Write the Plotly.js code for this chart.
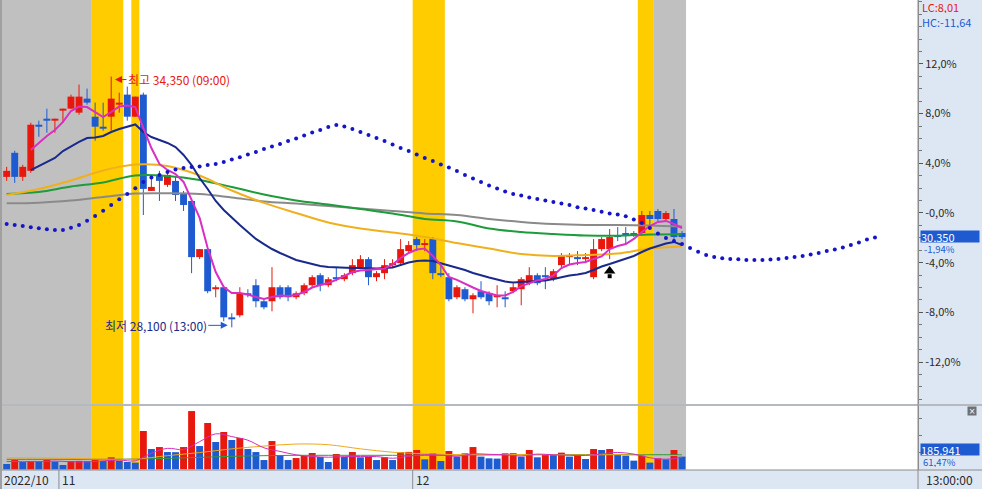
<!DOCTYPE html>
<html><head><meta charset="utf-8">
<script src="https://cdn.plot.ly/plotly-3.0.1.min.js"></script>
<style>html,body{margin:0;padding:0;background:#dde7f4;}#chart{width:982px;height:489px;}</style>
</head><body><div id="chart"></div>
<script>
// ---------- data ----------
const BASE_PRICE = 30950;
const open  = [31850,32450,31850,32000,33150,33300,33250,33500,33550,33450,33800,33350,33100,33350,33650,33900,33350,33900,31500,31900,31650,31750,31450,31250,29850,30050,29050,29100,28350,28400,28950,29150,28750,28750,29100,29100,28850,28950,29150,29400,29150,29350,29300,29450,29600,29800,29350,29450,29650,29700,30000,30300,30150,30300,29450,29350,28850,29050,28800,29000,28950,28850,28850,29000,29050,29200,29400,29400,29300,29650,29850,29850,29800,29350,30050,30050,30400,30450,30450,30450,30900,31000,30800,30800,30450];
const high  = [32100,32500,32150,33200,33250,33550,33300,33550,33900,34150,34050,33700,33700,34350,33950,34100,33850,33950,31850,32000,32000,31850,31500,31250,30050,30050,29150,29100,28450,29100,29050,29300,28800,29600,29150,29150,29000,29200,29400,29450,29350,29600,29450,29800,29900,29850,29500,29800,29800,30300,30250,30350,30300,30350,29700,29450,29150,29100,28950,29250,29000,29150,29000,29200,29350,29600,29450,29600,29550,29950,29950,30000,29950,30300,30350,30550,30600,30600,30500,31000,31000,31050,31000,31050,30500];
const low   = [31750,31700,31750,31950,32850,32950,32950,33200,33550,33400,33650,32750,33000,33000,33450,33250,33350,30900,31500,31250,31600,31250,31000,29450,29800,28950,28850,28250,28100,28350,28850,28600,28550,28500,28800,28750,28800,28900,29100,29000,29100,29250,29250,29400,29550,29150,29250,29300,29600,29650,29950,30000,30000,29300,29350,28750,28800,28750,28450,28800,28650,28600,28600,28950,28650,29150,29150,29050,29250,29600,29650,29650,29700,29300,30000,29800,30250,30200,30350,30400,30650,30750,30750,30200,30300];
const close = [32000,31850,32100,33150,33100,33250,33300,33550,33850,33850,33700,33100,33050,33800,33700,33350,33850,31550,31600,31750,31900,31400,31150,29850,30050,29000,29100,28350,28300,28950,28900,28750,28600,29100,28850,28850,28950,29150,29350,29150,29300,29300,29400,29650,29800,29350,29450,29650,29700,30050,30150,30150,30200,29450,29400,28800,29100,28800,28900,28850,28750,28900,28800,29100,29300,29400,29200,29350,29500,29900,29900,29800,29850,30050,30300,30350,30350,30400,30400,30900,30800,30800,30950,30350,30350];
const volume = [78000,136000,107000,122000,120000,136000,113000,63000,121000,123000,
  120000,136000,122000,176000,122000,107000,98000,561000,297000,326000,
  253000,251000,326000,853000,341000,678000,400000,546000,429000,458000,
  297000,253000,136000,414000,209000,136000,165000,195000,239000,180000,
  107000,224000,180000,253000,176000,186000,136000,176000,136000,253000,
  255000,283000,146000,234000,122000,268000,186000,234000,326000,186000,
  161000,157000,234000,236000,186000,283000,176000,209000,208000,244000,
  186000,220000,151000,297000,283000,297000,209000,201000,127000,209000,
  98000,161000,146000,283000,185941];
// moving-average lines
const maShort = [null,null,null,5.07,5.64,6.20,6.68,7.33,8.21,8.57,8.53,8.13,7.73,8.13,8.57,8.66,8.53,6.84,5.23,3.95,3.46,3.14,2.50,1.05,-0.40,-2.82,-4.75,-5.96,-6.44,-6.44,-6.56,-6.76,-6.92,-6.76,-6.64,-6.68,-6.60,-6.36,-6.00,-5.80,-5.64,-5.39,-5.07,-4.75,-4.63,-4.59,-4.55,-4.47,-4.15,-3.62,-3.22,-2.94,-2.86,-3.46,-4.19,-5.15,-5.39,-5.72,-6.00,-6.28,-6.44,-6.64,-6.64,-6.36,-5.88,-5.64,-5.43,-5.31,-5.03,-4.43,-4.15,-4.03,-3.95,-3.70,-3.50,-2.90,-2.66,-2.50,-2.09,-1.53,-1.05,-0.72,-0.64,-0.89,-1.21];
const maMid = [null,null,null,3.46,3.78,4.11,4.43,4.99,5.39,5.72,6.04,6.08,6.20,6.52,6.76,6.96,7.13,6.52,6.12,5.88,5.64,5.31,4.67,3.86,2.82,1.93,0.97,0.24,-0.40,-0.97,-1.53,-2.09,-2.50,-2.90,-3.22,-3.50,-3.78,-3.95,-4.11,-4.27,-4.35,-4.39,-4.43,-4.43,-4.43,-4.47,-4.47,-4.43,-4.39,-4.19,-3.99,-3.86,-3.82,-3.86,-4.03,-4.19,-4.39,-4.59,-4.83,-5.03,-5.19,-5.35,-5.52,-5.60,-5.56,-5.52,-5.48,-5.43,-5.31,-5.15,-5.03,-4.95,-4.83,-4.59,-4.31,-4.11,-3.90,-3.70,-3.46,-3.14,-2.86,-2.66,-2.46,-2.33,-2.58];
const longIdx = [0,4,8,12,16,20,24,28,32,36,40,44,48,52,56,60,64,68,72,76,80,84];
const maOrange = [1.45,1.93,2.62,3.42,3.90,3.78,3.02,1.81,0.81,0.00,-0.76,-1.25,-1.57,-1.93,-2.42,-2.86,-3.30,-3.46,-3.38,-3.26,-2.86,-2.70];
const maGreen  = [1.53,1.69,2.13,2.46,3.02,2.98,2.66,2.09,1.49,1.01,0.68,0.32,-0.04,-0.48,-0.68,-1.25,-1.53,-1.69,-1.81,-1.83,-1.73,-1.71];
const maGray   = [0.78,0.83,1.01,1.29,1.57,1.59,1.53,1.25,0.93,0.76,0.56,0.36,0.16,-0.04,-0.16,-0.48,-0.72,-0.89,-0.97,-0.97,-1.01,-1.09];
const dotted = [-0.89,-0.97,-1.05,-1.15,-1.23,-1.31,-1.37,-1.37,-1.18,-0.97,
  -0.62,-0.24,0.19,0.64,1.10,1.53,1.99,2.50,2.86,3.06,
  3.30,3.50,3.62,3.70,3.74,3.86,3.95,4.11,4.31,4.48,
  4.71,4.91,5.15,5.35,5.56,5.80,6.00,6.24,6.48,6.68,
  6.92,7.09,6.96,6.76,6.52,6.28,6.04,5.80,5.52,5.23,
  4.99,4.71,4.43,4.19,3.90,3.66,3.38,3.06,2.78,2.50,
  2.21,1.97,1.73,1.53,1.41,1.25,1.13,1.01,0.89,0.76,
  0.64,0.46,0.36,0.24,0.10,-0.04,-0.12,-0.27,-0.52,-0.81,
  -1.21,-1.65,-2.01,-2.25,-2.50,-2.82,-3.12,-3.38,-3.54,-3.65,
  -3.70,-3.73,-3.78,-3.78,-3.78,-3.74,-3.70,-3.62,-3.54,-3.46,
  -3.34,-3.22,-3.06,-2.94,-2.78,-2.58,-2.38,-2.13,-1.97];
const volShortIdx = [0,2,4,6,8,10,12,14,16,18,20,22,24,26,28,30,32,34,36,38,40,42,44,46,48,50,52,54,56,58,60,62,64,66,68,70,72,74,76,78,80,82,84];
const volShort = [115000,112000,113000,120000,111000,108000,124000,135000,125000,237000,307000,291000,405000,520000,479000,426000,315000,262000,212000,189000,177000,186000,188000,186000,162000,191000,215000,208000,191000,227000,219000,213000,195000,223000,212000,205000,202000,227000,247000,223000,169000,148000,175000];
const volOrange = [166000,166000,160000,150000,150000,200000,245000,300000,340000,370000,360000,300000,250000,228000,215000,218000,215000,215000,210000,215000,205000,200000];
const volGreen  = [146000,146000,146000,146000,150000,160000,175000,190000,200000,205000,205000,205000,205000,205000,208000,210000,212000,215000,215000,215000,215000,212000];
const signalIdx = [75];
const signalPct = [-4.67];
const pctTicks = [12, 8, 4, 0, -4, -8, -12];
const monthStarts = [{label:'11', idx:7}, {label:'12', idx:51}];
const firstLabel = '2022/10';
const timeLabel = '13:00:00';
const grayBands = [[-1, 10.5], [80.5, 84.5]];
const yellowBands = [[10.5, 14.5], [15.5, 16.5], [50.5, 54.5], [78.5, 80.5]];
const highTime = '(09:00)', lowTime = '(13:00)';
const volRatioText = '61,47%';

// ---------- build ----------
const FONT = 'Noto Sans CJK KR, Noto Sans, sans-serif';
const RED = '#e8180e', BLUE = '#1e5bd1', NAVY = '#1a2a8c';
const pct = p => (p / BASE_PRICE - 1) * 100;
const fmtNum = v => Math.round(v).toLocaleString('en-US');
const fmtPct = v => (v < 0 ? '-' : '') + Math.abs(v).toFixed(2).replace('.', ',');
const N = close.length;
const idx = Array.from({length: N}, (_, i) => i);
const isUp = idx.map(i => close[i] > open[i]);
const bodyBase = idx.map(i => pct(Math.min(open[i], close[i])));
const bodyH = idx.map(i => Math.max(Math.abs(pct(close[i]) - pct(open[i])), 0.09));
const cColors = isUp.map(u => u ? RED : BLUE);
function wicks(up) {
  const xs = [], ys = [];
  idx.forEach(i => { if (isUp[i] === up) { xs.push(i, i, null); ys.push(pct(low[i]), pct(high[i]), null); } });
  return {xs, ys};
}
const wUp = wicks(true), wDn = wicks(false);
const vColors = volume.map((v, i) => (i > 0 && v > volume[i - 1]) ? RED : BLUE);

const traces = [
  {type:'bar', x: idx, y: bodyH, base: bodyBase, width: 0.86, marker:{color: cColors, line:{width:0}}, xaxis:'x', yaxis:'y'},
  {type:'scatter', mode:'lines', x: wUp.xs, y: wUp.ys, line:{color: RED, width:1}, xaxis:'x', yaxis:'y'},
  {type:'scatter', mode:'lines', x: wDn.xs, y: wDn.ys, line:{color: BLUE, width:1}, xaxis:'x', yaxis:'y'},
  {type:'scatter', mode:'lines', x: longIdx, y: maGray, line:{color:'#8a8a8a', width:2, shape:'spline'}},
  {type:'scatter', mode:'lines', x: longIdx, y: maGreen, line:{color:'#1f9c3a', width:2, shape:'spline'}},
  {type:'scatter', mode:'lines', x: longIdx, y: maOrange, line:{color:'#f0b01c', width:2, shape:'spline'}},
  {type:'scatter', mode:'lines', x: idx, y: maMid, line:{color:NAVY, width:2}},
  {type:'scatter', mode:'lines', x: idx, y: maShort, line:{color:'#d92fc4', width:2}},
  {type:'scatter', mode:'markers', x: dotted.map((_, i) => i), y: dotted, marker:{color:'#1515c8', size:4}},
  {type:'scatter', mode:'markers', x: signalIdx, y: signalPct, marker:{symbol:'triangle-up', color:'#000', size:10}},
  {type:'scatter', mode:'markers', x: signalIdx, y: signalPct.map(v => v - 0.42), marker:{symbol:'square', color:'#000', size:4}},
  {type:'bar', x: idx, y: volume, width: 0.86, marker:{color: vColors, line:{width:0}}, xaxis:'x', yaxis:'y2'},
  {type:'scatter', mode:'lines', x: longIdx, y: volGreen, line:{color:'#2c9c3c', width:1, shape:'spline'}, yaxis:'y2'},
  {type:'scatter', mode:'lines', x: longIdx, y: volOrange, line:{color:'#f0a81c', width:1, shape:'spline'}, yaxis:'y2'},
  {type:'scatter', mode:'lines', x: volShortIdx, y: volShort, line:{color:'#d030c0', width:1, shape:'spline'}, yaxis:'y2'}
];

const PLOT_W = 918, PLOT_H = 470;
const px = x => x / PLOT_W;              // paper x from pixel
const py = y => (PLOT_H - y) / PLOT_H;   // paper y from pixel
const shapes = [];
function band(r, color) {
  ['y domain', 'y2 domain'].forEach(ref => shapes.push({type:'rect', layer:'below', xref:'x', yref:ref, x0:r[0], x1:r[1], y0:0, y1:1, fillcolor:color, line:{width:0}}));
}
grayBands.forEach(r => band(r, '#c0c0c0'));
yellowBands.forEach(r => band(r, '#ffcc00'));
const LINE = '#8c8c8c';
shapes.push({type:'line', xref:'paper', yref:'paper', x0:0, x1:982/PLOT_W, y0:py(405), y1:py(405), line:{color:LINE, width:1}});
shapes.push({type:'line', xref:'paper', yref:'paper', x0:0, x1:982/PLOT_W, y0:0, y1:0, line:{color:LINE, width:1}});
shapes.push({type:'line', xref:'paper', yref:'paper', x0:1, x1:1, y0:-19/PLOT_H, y1:1, line:{color:LINE, width:1}});
shapes.push({type:'line', xref:'paper', yref:'paper', x0:px(1), x1:px(1), y0:-19/PLOT_H, y1:1, line:{color:'#a0a0a0', width:2}});
monthStarts.forEach(m => shapes.push({type:'line', xref:'x', yref:'paper', x0:m.idx - 0.5, x1:m.idx - 0.5, y0:-19/PLOT_H, y1:0, line:{color:LINE, width:1}}));

const hiVal = Math.max(...high), loVal = Math.min(...low);
const hiIdx = high.indexOf(hiVal), loIdx = low.indexOf(loVal);
const last = close[N - 1];
const lc = (last / loVal - 1) * 100, hc = (last / hiVal - 1) * 100, chg = pct(last);
const AX = {family: FONT, size: 12, color: '#2a2a2a'};
const SM = 11, XS = 9.5;
const annotations = [
  {xref:'x', yref:'y', x: hiIdx + 0.47, y: pct(hiVal), text: '최고 ' + fmtNum(hiVal) + ' ' + highTime, showarrow:true, arrowhead:2, arrowsize:1.4, arrowwidth:1, arrowcolor:RED, ax:64, ay:0, yshift:-3, font:{family:FONT, size:12, color:RED}},
  {xref:'x', yref:'y', x: loIdx - 0.5, y: pct(loVal), text: '최저 ' + fmtNum(loVal) + ' ' + lowTime, showarrow:true, arrowhead:2, arrowsize:1.4, arrowwidth:1, arrowcolor:BLUE, ax:-72, ay:0, yshift:2, font:{family:FONT, size:12, color:NAVY}},
  {xref:'paper', yref:'paper', x: px(920), y: py(7.5), xanchor:'left', yanchor:'middle', text:'LC:' + fmtPct(lc), showarrow:false, height:12, font:{family:FONT, size:SM, color:RED}},
  {xref:'paper', yref:'paper', x: px(920), y: py(22), xanchor:'left', yanchor:'middle', text:'HC:' + fmtPct(hc), showarrow:false, height:12, font:{family:FONT, size:SM, color:BLUE}},
  {xref:'paper', yref:'y', x: px(920), y: chg, yshift:1, xanchor:'left', yanchor:'middle', text: fmtNum(last), showarrow:false, bgcolor:BLUE, width:58, height:11, align:'left', borderpad:0, font:{family:FONT, size:SM, color:'#fff'}},
  {xref:'paper', yref:'y', x: px(922), y: chg, yshift:-11.5, xanchor:'left', yanchor:'middle', text: fmtPct(chg) + '%', showarrow:false, height:10, font:{family:FONT, size:XS, color:BLUE}},
  {xref:'paper', yref:'paper', x: px(920), y: py(449), xanchor:'left', yanchor:'middle', text: fmtNum(volume[N - 1]), showarrow:false, bgcolor:BLUE, width:58, height:11, align:'left', borderpad:0, font:{family:FONT, size:SM, color:'#fff'}},
  {xref:'paper', yref:'paper', x: px(921), y: py(461.5), xanchor:'left', yanchor:'middle', text: volRatioText, showarrow:false, height:10, font:{family:FONT, size:XS, color:BLUE}},
  {xref:'paper', yref:'paper', x: px(972), y: py(411), xanchor:'center', yanchor:'middle', text:'×', showarrow:false, bgcolor:'#707070', width:8, height:8, borderpad:0, font:{family:'DejaVu Sans', size:8, color:'#fff'}},
  {xref:'paper', yref:'paper', x: px(2), y: py(480), xanchor:'left', yanchor:'middle', text: firstLabel, showarrow:false, font:AX},
  {xref:'paper', yref:'paper', x: px(924), y: py(480), xanchor:'left', yanchor:'middle', text: timeLabel, showarrow:false, font:AX}
];
monthStarts.forEach(m => annotations.push({xref:'x', yref:'paper', x: m.idx - 0.5, xshift:1, y: py(480), xanchor:'left', yanchor:'middle', text: m.label, showarrow:false, font:AX}));

const layout = {
  width: 982, height: 489,
  margin: {l:0, r:64, t:0, b:19, pad:0},
  paper_bgcolor: '#dde7f4', plot_bgcolor: '#ffffff',
  showlegend: false, hovermode: false, barmode: 'overlay',
  font: {family: FONT, size: 12, color: '#2a2a2a'},
  xaxis: {range:[-0.83, 113.35], showgrid:false, zeroline:false, showticklabels:false, ticks:'', showline:false, anchor:'y2', fixedrange:true},
  yaxis: {domain:[py(404), 1], range:[-15.38, 17.15], side:'right', anchor:'x', tickmode:'array', tickvals: pctTicks,
    ticktext: pctTicks.map(v => (v <= 0 ? '-' : '') + Math.abs(v).toFixed(1).replace('.', ',') + '%'),
    ticks:'outside', ticklen:4, tickcolor:'#555', tickwidth:1, ticklabelstandoff:0, showline:true, linecolor:LINE, showgrid:false, zeroline:false,
    tickfont:{family:FONT, size:SM, color:'#2a2a2a'},
    minor:{tickmode:'linear', tick0:0, dtick:1, ticks:'outside', ticklen:3, tickcolor:'#777', showgrid:false}},
  yaxis2: {domain:[0, py(406)], range:[-10000, 927000], side:'right', anchor:'x', showline:true, linecolor:LINE, showticklabels:false,
    tickmode:'array', tickvals:[250000, 500000, 750000], ticks:'outside', ticklen:3, tickcolor:'#777', showgrid:false, zeroline:false},
  shapes, annotations
};
Plotly.newPlot('chart', traces, layout, {displayModeBar:false, staticPlot:true});
</script></body></html>
